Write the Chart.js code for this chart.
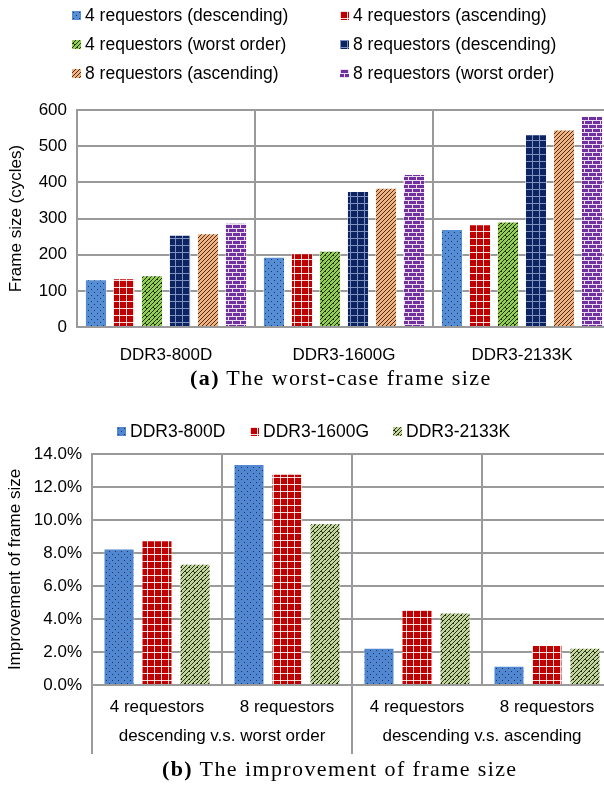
<!DOCTYPE html>
<html>
<head>
<meta charset="utf-8">
<script src="https://cdn.jsdelivr.net/npm/chart.js@4.4.0/dist/chart.umd.min.js"></script>
<style>
html, body { margin: 0; padding: 0; background: #fff; }
#wrap { position: relative; width: 604px; height: 785px; overflow: hidden; font-family: "Liberation Sans", Arial, sans-serif; color: #000; }
canvas { position: absolute; left: 0; }
#c1 { top: 0; }
#c2 { top: 400px; }
.item { position: absolute; display: flex; align-items: center; white-space: nowrap; font-size: 17.5px; height: 20px; }
.sw { width: 9px; height: 9px; margin-right: 4px; }
.caption { position: absolute; font-family: "Liberation Serif", "Times New Roman", serif; font-size: 22px; letter-spacing: 1.4px; white-space: nowrap; }
.caption b { font-weight: bold; }
</style>
</head>
<body>
<div id="wrap">
  <canvas id="c1" width="620" height="400"></canvas>
  <canvas id="c2" width="620" height="385"></canvas>
  <div id="legend1"></div>
  <div id="legend2"></div>
  <div class="caption" style="left:190px; top:365px;"><b>(a)</b> The worst-case frame size</div>
  <div class="caption" style="left:162px; top:756px;"><b>(b)</b> The improvement of frame size</div>
</div>
<script>
// (a) worst-case frame size, cycles
const frameCategories = ['DDR3-800D', 'DDR3-1600G', 'DDR3-2133K'];
const frameSeriesNames = ['4 requestors (descending)', '4 requestors (ascending)', '4 requestors (worst order)',
                          '8 requestors (descending)', '8 requestors (ascending)', '8 requestors (worst order)'];
const desc4 = [132, 194, 271];
const asc4 = [135, 204, 284];
const worst4 = [143, 211, 292];
const desc8 = [255, 376, 533];
const asc8 = [259, 385, 546];
const worst8 = [288, 423, 584];

// (b) improvement of frame size, percent
const improveCategories = ['4 requestors', '8 requestors', '4 requestors', '8 requestors'];
const improveGroups = ['descending v.s. worst order', 'descending v.s. ascending'];
const improveSeriesNames = ['DDR3-800D', 'DDR3-1600G', 'DDR3-2133K'];
const ddr800 = [8.28, 13.39, 2.26, 1.17];
const ddr1600 = [8.77, 12.81, 4.60, 2.42];
const ddr2133 = [7.35, 9.80, 4.40, 2.26];

Chart.defaults.font.family = '"Liberation Sans", Arial, sans-serif';
Chart.defaults.font.size = 17;
Chart.defaults.color = '#000';

const gridColor = '#9a9a9a';

function tile(w, h, bg, draw) {
  const c = document.createElement('canvas');
  c.width = w; c.height = h;
  const g = c.getContext('2d');
  g.fillStyle = bg;
  g.fillRect(0, 0, w, h);
  draw(g);
  return c;
}

const dots = bg => tile(6, 6, bg, g => {
  g.fillStyle = '#1d335c';
  g.fillRect(1, 1, 1, 1);
  g.fillRect(4, 4, 1, 1);
});
const gridTile = (bg, line) => tile(7, 7, bg, g => {
  g.fillStyle = line;
  g.fillRect(0, 0, 7, 1);
  g.fillRect(0, 0, 1, 7);
});
const weave = bg => tile(8, 8, bg, g => {
  g.strokeStyle = '#26301a';
  g.lineWidth = 1;
  g.beginPath();
  g.moveTo(-1, 9); g.lineTo(9, -1);
  g.moveTo(-1, 5); g.lineTo(5, -1);
  g.moveTo(3, 9); g.lineTo(9, 3);
  g.moveTo(1, 3); g.lineTo(3, 5);
  g.moveTo(5, 7); g.lineTo(7, 9);
  g.stroke();
});
const stripes = bg => tile(4, 4, bg, g => {
  g.strokeStyle = '#4a2e18';
  g.lineWidth = 1;
  g.beginPath();
  g.moveTo(-1, 5); g.lineTo(5, -1);
  g.stroke();
});
const bricks = bg => tile(8, 8, bg, g => {
  g.fillStyle = 'rgba(255,255,255,0.85)';
  g.fillRect(0, 0, 8, 1);
  g.fillRect(0, 4, 8, 1);
  g.fillRect(0, 1, 1, 3);
  g.fillRect(4, 5, 1, 3);
});

const frameTiles = [dots('#558ed5'), gridTile('#c00000', 'rgba(255,255,255,0.85)'), weave('#92d050'),
                    gridTile('#0d2463', '#8093c0'), stripes('#f2b382'), bricks('#7030a0')];
const frameValues = [desc4, asc4, worst4, desc8, asc8, worst8];

const improveTiles = [dots('#5087d0'), gridTile('#c00000', 'rgba(255,255,255,0.85)'), weave('#c3d69b')];
const improveValues = [ddr800, ddr1600, ddr2133];

const ctx1 = document.getElementById('c1').getContext('2d');
const ctx2 = document.getElementById('c2').getContext('2d');

new Chart(ctx1, {
  type: 'bar',
  data: {
    labels: frameCategories,
    datasets: frameSeriesNames.map((name, i) => ({
      label: name,
      data: frameValues[i],
      backgroundColor: ctx1.createPattern(frameTiles[i], 'repeat'),
      borderColor: 'rgba(255,255,255,0.5)',
      borderWidth: 1,
      categoryPercentage: 0.944,
      barPercentage: 0.79
    }))
  },
  options: {
    responsive: false,
    animation: false,
    layout: { padding: { top: 110, right: 9, left: 0, bottom: 0 } },
    plugins: { legend: { display: false }, tooltip: { enabled: false } },
    scales: {
      x: {
        grid: { color: gridColor, lineWidth: 2, drawTicks: false, offset: true },
        border: { color: gridColor, width: 2 },
        ticks: { padding: 18 },
        afterFit: s => { s.height = 73; }
      },
      y: {
        min: 0, max: 600,
        ticks: { stepSize: 100, padding: 10 },
        grid: { color: gridColor, lineWidth: 2, drawTicks: false },
        border: { color: gridColor, width: 2 },
        title: { display: true, text: 'Frame size (cycles)', padding: { top: 6, bottom: 0 } },
        afterFit: s => { s.width = 77; }
      }
    }
  }
});

// group labels and long separators under the x axis of chart (b)
const groupAxis = {
  id: 'groupAxis',
  afterDraw(chart) {
    const x = chart.scales.x;
    const area = chart.chartArea;
    const g = chart.ctx;
    g.save();
    g.strokeStyle = gridColor;
    g.lineWidth = 2;
    const per = improveCategories.length / improveGroups.length;
    for (let k = 0; k < improveGroups.length; k++) {
      const bx = k === 0 ? area.left
        : (x.getPixelForValue(k * per - 1) + x.getPixelForValue(k * per)) / 2;
      g.beginPath();
      g.moveTo(bx, area.bottom);
      g.lineTo(bx, area.bottom + 69);
      g.stroke();
    }
    g.fillStyle = '#000';
    g.font = '17px "Liberation Sans", Arial, sans-serif';
    g.textAlign = 'center';
    g.textBaseline = 'middle';
    improveGroups.forEach((name, k) => {
      const cx = (x.getPixelForValue(k * per) + x.getPixelForValue(k * per + per - 1)) / 2;
      g.fillText(name, cx, area.bottom + 51);
    });
    g.restore();
  }
};

new Chart(ctx2, {
  type: 'bar',
  data: {
    labels: improveCategories,
    datasets: improveSeriesNames.map((name, i) => ({
      label: name,
      data: improveValues[i],
      backgroundColor: ctx2.createPattern(improveTiles[i], 'repeat'),
      borderColor: 'rgba(255,255,255,0.5)',
      borderWidth: 1,
      categoryPercentage: 0.877,
      barPercentage: 0.816
    }))
  },
  options: {
    responsive: false,
    animation: false,
    layout: { padding: { top: 54, right: 8, left: 0, bottom: 0 } },
    plugins: { legend: { display: false }, tooltip: { enabled: false } },
    scales: {
      x: {
        grid: { color: gridColor, lineWidth: 2, drawTicks: false, offset: true },
        border: { color: gridColor, width: 2 },
        ticks: { padding: 12 },
        afterFit: s => { s.height = 100; }
      },
      y: {
        min: 0, max: 14,
        ticks: { stepSize: 2, padding: 10, callback: v => v.toFixed(1) + '%' },
        grid: { color: gridColor, lineWidth: 2, drawTicks: false },
        border: { color: gridColor, width: 2 },
        title: { display: true, text: 'Improvement of frame size', padding: { top: 5, bottom: 0 } },
        afterFit: s => { s.width = 92; }
      }
    }
  },
  plugins: [groupAxis]
});

// legends as real text
function legend(holder, names, tiles, spots) {
  names.forEach((name, i) => {
    const d = document.createElement('div');
    d.className = 'item';
    d.style.left = spots[i][0] + 'px';
    d.style.top = spots[i][1] + 'px';
    const s = document.createElement('div');
    s.className = 'sw';
    s.style.backgroundImage = 'url(' + tiles[i].toDataURL() + ')';
    d.appendChild(s);
    d.appendChild(document.createTextNode(name));
    holder.appendChild(d);
  });
}
legend(document.getElementById('legend1'), frameSeriesNames, frameTiles,
  [[72, 5], [340, 5], [72, 34], [340, 34], [72, 63], [340, 63]]);
legend(document.getElementById('legend2'), improveSeriesNames, improveTiles,
  [[117, 421], [250, 421], [393, 421]]);
</script>
</body>
</html>
